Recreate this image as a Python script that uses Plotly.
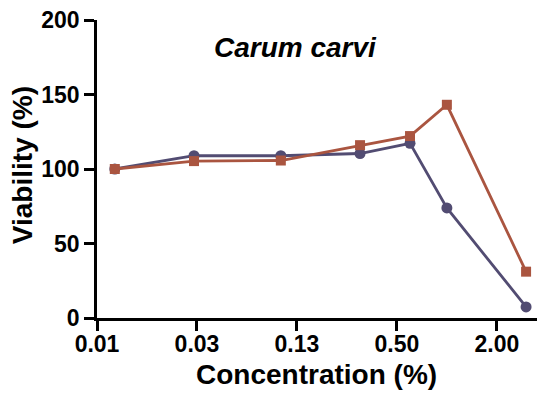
import numpy as np
import plotly.graph_objects as go

# Concentrations (%) and viability (%)
conc = [0.01, 0.03, 0.1, 0.3, 0.6, 1.0, 3.0]
viab_circle = [100, 108.9, 108.9, 110.4, 117.2, 73.9, 7.4]
viab_square = [100, 105.3, 105.7, 116.0, 122.1, 143.1, 31.1]

tick_vals = [0.0078125, 0.03125, 0.125, 0.5, 2.0]
tick_text = ['0.01', '0.03', '0.13', '0.50', '2.00']

blue = '#524c72'
rust = '#aa5540'
font = 'Liberation Sans, Arial, sans-serif'

fig = go.Figure()

fig.add_trace(go.Scatter(
    x=conc, y=viab_circle, mode='lines+markers',
    line=dict(color=blue, width=2.8),
    marker=dict(symbol='circle', size=11, color=blue),
    cliponaxis=False, showlegend=False
))
fig.add_trace(go.Scatter(
    x=conc, y=viab_square, mode='lines+markers',
    line=dict(color=rust, width=2.8),
    marker=dict(symbol='square', size=10, color=rust),
    cliponaxis=False, showlegend=False
))

fig.update_xaxes(
    type='log', range=[np.log10(0.0078125), 0.579],
    tickvals=tick_vals, ticktext=tick_text,
    ticks='outside', ticklen=10, tickwidth=2.5, tickcolor='black',
    showline=True, linewidth=2.5, linecolor='black',
    showgrid=False, zeroline=False, automargin=False,
    ticklabeloverflow='allow', ticklabelstandoff=-6,
    tickfont=dict(family=font, size=23, color='black', weight='bold')
)
fig.update_yaxes(
    range=[0, 200], tickvals=[0, 50, 100, 150, 200],
    ticks='outside', ticklen=10, tickwidth=2.5, tickcolor='black',
    showline=True, linewidth=2.5, linecolor='black',
    showgrid=False, zeroline=False, automargin=False,
    ticklabeloverflow='allow',
    tickfont=dict(family=font, size=23, color='black', weight='bold')
)

# axis titles and plot label
fig.add_annotation(
    text='<b>Concentration (%)</b>', xref='paper', yref='paper',
    x=0.493, y=-0.19, xanchor='center', yanchor='middle', showarrow=False,
    font=dict(family=font, size=28, color='black')
)
fig.add_annotation(
    text='<b>Viability (%)</b>', xref='paper', yref='paper', textangle=-90,
    x=-0.168, y=0.513, xanchor='center', yanchor='middle', showarrow=False,
    font=dict(family=font, size=28, color='black')
)
fig.add_annotation(
    text='<b><i>Carum carvi</i></b>', xref='paper', yref='paper',
    x=0.444, y=0.908, xanchor='center', yanchor='middle', showarrow=False,
    font=dict(family=font, size=28, color='black')
)

# page body adds an 8px offset, so the figure is sized to fit inside it
fig.update_layout(
    width=537, height=385,
    margin=dict(l=89, r=2, t=12, b=75),
    paper_bgcolor='white', plot_bgcolor='white'
)

fig.write_html("out.html")
